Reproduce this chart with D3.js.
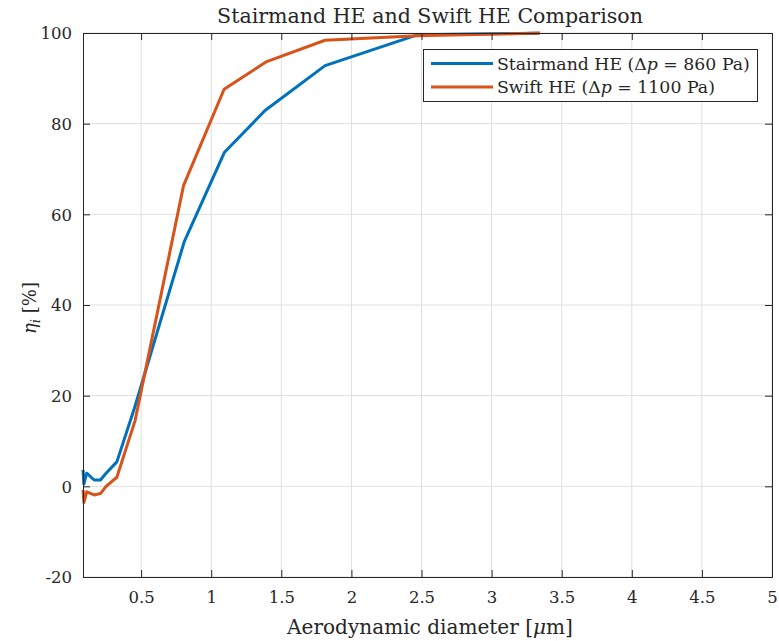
<!DOCTYPE html>
<html><head><meta charset="utf-8">
<script src="https://cdn.jsdelivr.net/npm/d3@7"></script>
<style>body{margin:0;background:#fff}svg{display:block}text{font-family:"DejaVu Serif","Liberation Serif",serif;fill:#262626}</style>
</head><body><svg id="c" width="779" height="641"></svg>
<script>
const xTicks = [0.5,1,1.5,2,2.5,3,3.5,4,4.5,5];
const yTicks = [-20,0,20,40,60,80,100];
const stairX = [0.086,0.092,0.112,0.165,0.21,0.25,0.327,0.455,0.807,1.095,1.384,1.812,2.47,3.34];
const stairY = [3.6,0.5,2.9,1.4,1.4,2.9,5.4,17.5,53.9,73.7,82.9,92.8,99.6,99.95];
const swiftX = [0.086,0.092,0.112,0.165,0.21,0.25,0.327,0.457,0.803,1.092,1.396,1.812,2.47,3.345];
const swiftY = [-0.8,-3.6,-1.2,-1.9,-1.6,0.0,2.0,14.5,66.4,87.6,93.7,98.4,99.4,100.0];
const series = [
  {name:"Stairmand HE (", dp:"860", x:stairX, y:stairY, color:"#0072BD", w:253},
  {name:"Swift HE (", dp:"1100", x:swiftX, y:swiftY, color:"#D95319", w:218}
];
const L=83,R=772,T=33,B=577;
const svg=d3.select("#c");
const x=d3.scaleLinear().domain([0.0855,5]).range([L,R]);
const y=d3.scaleLinear().domain([-20,100]).range([B,T]);
const ax="#262626";
function fit(sel,target,fs){const n=sel.node();const w=n.getComputedTextLength();sel.attr("font-size",fs*target/w);}
// grid
const g=svg.append("g");
g.selectAll(".gx").data(xTicks).join("line").attr("x1",d=>x(d)).attr("x2",d=>x(d)).attr("y1",T).attr("y2",B).attr("stroke","#dfdfdf").attr("stroke-width",1);
g.selectAll(".gy").data(yTicks).join("line").attr("y1",d=>y(d)).attr("y2",d=>y(d)).attr("x1",L).attr("x2",R).attr("stroke","#dfdfdf").attr("stroke-width",1);
// data
const line=d3.line().x(d=>x(d[0])).y(d=>y(d[1]));
series.forEach(s=>{
  svg.append("path").attr("d",line(s.x.map((v,i)=>[v,s.y[i]]))).attr("fill","none").attr("stroke",s.color).attr("stroke-width",3).attr("stroke-linejoin","round");
});
// axes
const axB=svg.append("g").attr("transform",`translate(0,${B})`).call(d3.axisBottom(x).tickValues(xTicks).tickSize(-7).tickPadding(14).tickFormat(d=>String(d)));
const axT=svg.append("g").attr("transform",`translate(0,${T})`).call(d3.axisTop(x).tickValues(xTicks).tickSize(-7).tickFormat(""));
const axL=svg.append("g").attr("transform",`translate(${L},0)`).call(d3.axisLeft(y).tickValues(yTicks).tickSize(-7).tickPadding(11).tickFormat(d=>String(d)));
const axR=svg.append("g").attr("transform",`translate(${R},0)`).call(d3.axisRight(y).tickValues(yTicks).tickSize(-7).tickFormat(""));
[axB,axT,axL,axR].forEach(a=>{a.selectAll("path").attr("stroke",ax).attr("stroke-width",1);a.selectAll("line").attr("stroke",ax);a.selectAll("text").attr("font-size",16.5).attr("font-family",null).attr("fill",ax);});
axB.selectAll("text").attr("dy","0.71em");
axL.selectAll("text").attr("dy","0.35em");
// title & labels
const title=svg.append("text").attr("x",430).attr("y",23).attr("text-anchor","middle").attr("font-size",18).text("Stairmand HE and Swift HE Comparison");
fit(title,426,18);
const xl=svg.append("text").attr("x",430).attr("y",634).attr("text-anchor","middle").attr("font-size",18)
  .call(t=>{t.append("tspan").text("Aerodynamic diameter [");t.append("tspan").attr("font-style","italic").text("μ");t.append("tspan").text("m]");});
fit(xl,286,18);
svg.append("text").attr("transform","translate(36,308) rotate(-90)").attr("text-anchor","middle").attr("font-size",18)
  .call(t=>{t.append("tspan").attr("font-style","italic").text("η");t.append("tspan").attr("font-style","italic").attr("font-size",13).attr("dy",4).text("i");t.append("tspan").attr("dy",-4).text(" [%]");});
// legend
const lg=svg.append("g");
lg.append("rect").attr("x",423.5).attr("y",49.5).attr("width",334).attr("height",52).attr("fill","#fff").attr("stroke",ax).attr("stroke-width",1);
series.forEach((s,i)=>{
  const yy=63.5+i*23.5;
  lg.append("line").attr("x1",431).attr("x2",493).attr("y1",yy).attr("y2",yy).attr("stroke",s.color).attr("stroke-width",3);
  const t=lg.append("text").attr("x",497).attr("y",yy).attr("dy","0.35em").attr("font-size",17)
    .call(t=>{t.append("tspan").text(s.name+"Δ");t.append("tspan").attr("font-style","italic").text("p");t.append("tspan").text(" = "+s.dp+" Pa)");});
  fit(t,s.w,17);
});
</script></body></html>
